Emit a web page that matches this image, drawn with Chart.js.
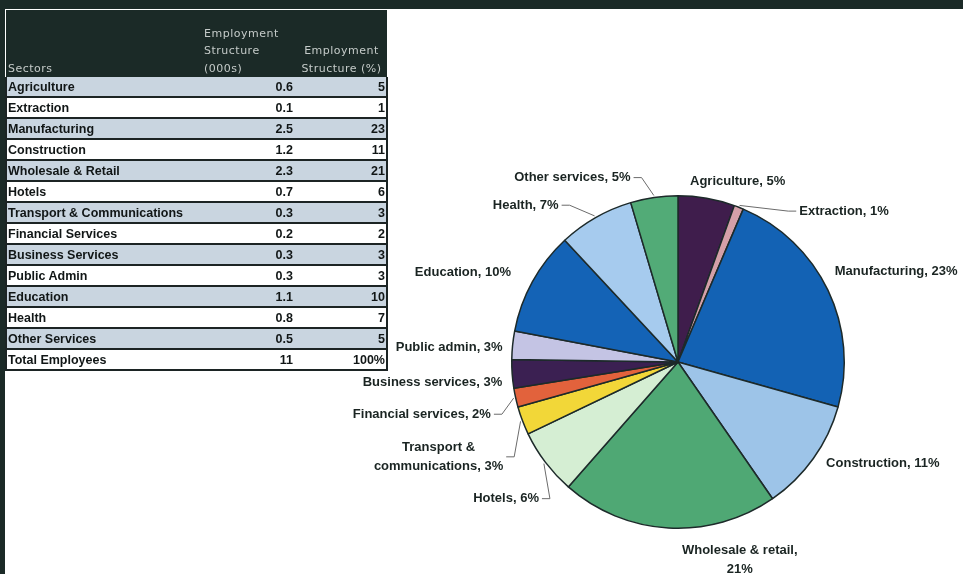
<!DOCTYPE html>
<html>
<head>
<meta charset="utf-8">
<script src="https://cdn.jsdelivr.net/npm/chart.js@4.4.1/dist/chart.umd.min.js"></script>
<style>
  body { margin: 0; width: 963px; height: 574px; overflow: hidden; background: #fff; position: relative; }
  #band { position: absolute; left: 0; top: 0; width: 963px; height: 9px; background: #1b2a27; }
  #leftbar { position: absolute; left: 0; top: 0; width: 5px; height: 574px; background: #1b2a27; }
  #chart { position: absolute; left: 0; top: 0; }
  #tbl { position: absolute; left: 5px; top: 10px; width: 381px; border-collapse: collapse; table-layout: fixed; }
  #tbl th { background: #1b2a27; color: #c5cbc9; font: 11px "DejaVu Sans", sans-serif; letter-spacing: 0.5px;
            line-height: 17.5px; vertical-align: bottom; padding: 0 0 0 3px; text-align: left; font-weight: normal; height: 67px; }
  #tbl th:first-child { padding-left: 2px; }
  #tbl th.pct { text-align: center; padding: 0; }
  #tbl td { font: bold 12.5px "Liberation Sans", Arial, sans-serif; color: #111616; height: 19px; padding: 0 3px;
            border-bottom: 2px solid #1c2424; white-space: nowrap; }
  #tbl td:first-child { padding-left: 1px; }
  #tbl td.num { text-align: right; }
  #tbl td.pct { text-align: right; padding-right: 1px; }
  #tbl tr.shade td { background: #c9d5e0; }
  #tbl tr td:first-child { border-left: 2px solid #1c2424; }
  #tbl tr td:last-child { border-right: 2px solid #1c2424; }
</style>
</head>
<body>
<div id="band"></div>
<canvas id="chart" width="963" height="574"></canvas>
<table id="tbl">
  <colgroup><col style="width:195px"><col style="width:95px"><col style="width:91px"></colgroup>
  <thead>
    <tr><th>Sectors</th><th>Employment<br>Structure<br>(000s)</th><th class="pct">Employment<br>Structure (%)</th></tr>
  </thead>
  <tbody id="rows"></tbody>
</table>
<div id="leftbar"></div>
<script>
// table data
const sectors = ['Agriculture', 'Extraction', 'Manufacturing', 'Construction', 'Wholesale & Retail', 'Hotels',
  'Transport & Communications', 'Financial Services', 'Business Services', 'Public Admin', 'Education', 'Health', 'Other Services'];
const employment000s = [0.6, 0.1, 2.5, 1.2, 2.3, 0.7, 0.3, 0.2, 0.3, 0.3, 1.1, 0.8, 0.5];
const employmentPct = [5, 1, 23, 11, 21, 6, 3, 2, 3, 3, 10, 7, 5];
const totalRow = ['Total Employees', '11', '100%'];

// pie labels (as written on the chart)
const pieNames = ['Agriculture', 'Extraction', 'Manufacturing', 'Construction', 'Wholesale & retail,\n', 'Hotels',
  'Transport &\ncommunications', 'Financial services', 'Business services', 'Public admin', 'Education', 'Health', 'Other services'];

const sliceColors = ['#3f1d4c', '#d4a0a8', '#1362b4', '#9dc4e8', '#4fa874', '#d5eed3', '#f2d738',
  '#e2623c', '#3b2052', '#c4c4e4', '#1463b6', '#a6cbee', '#52ab77'];

const rowsEl = document.getElementById('rows');
sectors.forEach((s, i) => {
  const tr = document.createElement('tr');
  if (i % 2 === 0) tr.className = 'shade';
  tr.innerHTML = `<td></td><td class="num">${employment000s[i].toFixed(1)}</td><td class="pct">${employmentPct[i]}</td>`;
  tr.firstChild.textContent = s;
  rowsEl.appendChild(tr);
});
const tot = document.createElement('tr');
tot.innerHTML = `<td>${totalRow[0]}</td><td class="num">${totalRow[1]}</td><td class="pct">${totalRow[2]}</td>`;
rowsEl.appendChild(tot);

function labelText(i) {
  const name = pieNames[i];
  if (name.endsWith('\n')) return name + employmentPct[i] + '%';
  return name + ', ' + employmentPct[i] + '%';
}

const pieLabels = {
  id: 'pieLabels',
  afterDatasetsDraw(chart, args, opts) {
    const ctx = chart.ctx;
    const meta = chart.getDatasetMeta(0);
    ctx.save();
    ctx.font = opts.font;
    ctx.textBaseline = 'middle';
    meta.data.forEach((arc, i) => {
      const p = arc.getProps(['x', 'y', 'startAngle', 'endAngle', 'outerRadius'], true);
      const mid = (p.startAngle + p.endAngle) / 2;
      const cos = Math.cos(mid), sin = Math.sin(mid);
      const nudge = opts.nudge[i] || [0, 0];
      const ax = p.x + cos * (p.outerRadius + opts.gap) + nudge[0];
      const ay = p.y + sin * (p.outerRadius + opts.gap) + nudge[1];
      const lines = labelText(i).split('\n');
      const widths = lines.map(l => ctx.measureText(l).width);
      const w = Math.max(...widths);
      const h = lines.length * opts.lineHeight;
      let left;
      if (cos > 0.3) left = ax;
      else if (cos < -0.3) left = ax - w;
      else left = ax - w / 2;
      let top = ay - h / 2;
      if (lines.length > 1 && Math.abs(cos) <= 0.3 && sin > 0) top = ay;

      ctx.fillStyle = opts.color;
      lines.forEach((l, k) => {
        ctx.fillText(l, left + (w - widths[k]) / 2, top + opts.lineHeight * (k + 0.5));
      });

      if (opts.leaders.includes(i)) {
        const ex = p.x + cos * (p.outerRadius + 2);
        const ey = p.y + sin * (p.outerRadius + 2);
        const cy = top + h / 2;
        const onLeft = left + w / 2 < ex;
        const sx = onLeft ? left + w + 3 : left - 3;
        const kx = onLeft ? sx + 8 : sx - 8;
        ctx.strokeStyle = opts.leaderColor;
        ctx.lineWidth = 1;
        ctx.beginPath();
        ctx.moveTo(sx, cy);
        ctx.lineTo(kx, cy);
        ctx.lineTo(ex, ey);
        ctx.stroke();
      }
    });
    ctx.restore();
  }
};

new Chart(document.getElementById('chart'), {
  type: 'pie',
  data: {
    labels: pieNames,
    datasets: [{
      data: employment000s,
      backgroundColor: sliceColors,
      borderColor: '#1d2a2a',
      borderWidth: 1.5
    }]
  },
  options: {
    responsive: false,
    animation: false,
    devicePixelRatio: 1,
    layout: { padding: { left: 511, right: 118, top: 195, bottom: 45 } },
    plugins: {
      legend: { display: false },
      tooltip: { enabled: false },
      pieLabels: {
        font: 'bold 13px "Liberation Sans", Arial, sans-serif',
        color: '#1a2422',
        leaderColor: '#6b6b6b',
        gap: 12,
        lineHeight: 19,
        leaders: [1, 5, 6, 7, 11, 12],
        nudge: [[29, -5], [56, 15], [-4, -14], [3, -2], [72, 1], [3, 29], [-8, 32],
                [-13, 14], [2, 8], [2, 3], [-11, -3], [-31, -2], [-80, -8]]
      }
    }
  },
  plugins: [pieLabels]
});
</script>
</body>
</html>
